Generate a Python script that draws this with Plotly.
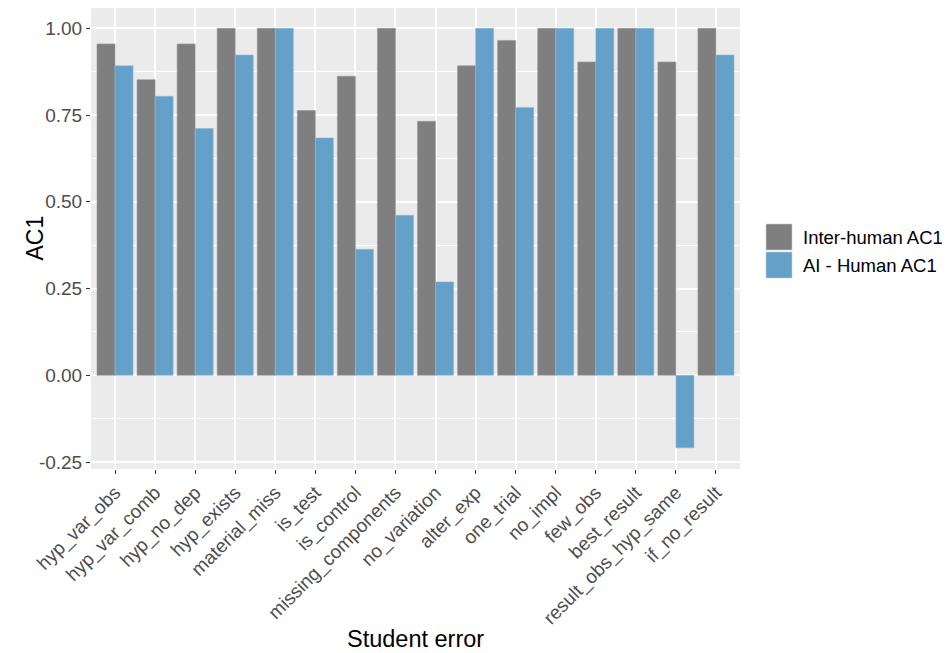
import plotly.graph_objects as go

categories = ["hyp_var_obs", "hyp_var_comb", "hyp_no_dep", "hyp_exists", "material_miss",
              "is_test", "is_control", "missing_components", "no_variation", "alter_exp",
              "one_trial", "no_impl", "few_obs", "best_result", "result_obs_hyp_same", "if_no_result"]
inter_human = [0.955, 0.852, 0.955, 1.0, 1.0, 0.763, 0.862, 1.0, 0.732, 0.892,
               0.965, 1.0, 0.903, 1.0, 0.903, 1.0]
ai_human = [0.892, 0.804, 0.711, 0.923, 1.0, 0.684, 0.363, 0.461, 0.269, 1.0,
            0.772, 1.0, 1.0, 1.0, -0.209, 0.923]
series_names = ["Inter-human AC1", "AI - Human AC1"]
series_colors = ["#7F7F7F", "#65A0C9"]
y_ticks = [-0.25, 0.0, 0.25, 0.5, 0.75, 1.0]
y_tick_labels = ["-0.25", "0.00", "0.25", "0.50", "0.75", "1.00"]

FONT = "Liberation Sans, Arial, sans-serif"
W, H = 950, 653
ML, MR, MT, MB = 83, 218, 0, 192
PW, PH = W - ML - MR, H - MT - MB


def px_to_paper_x(px):
    return (px - ML) / PW


def px_to_paper_y(py):
    return 1 - (py - MT) / PH


fig = go.Figure()
fig.add_trace(go.Bar(x=categories, y=inter_human, name=series_names[0], showlegend=False,
                     marker=dict(color=series_colors[0], line=dict(color="#9a9a9a", width=0.6))))
fig.add_trace(go.Bar(x=categories, y=ai_human, name=series_names[1], showlegend=False,
                     marker=dict(color=series_colors[1], line=dict(color="#8fbbd9", width=0.6))))

# manual ggplot-style legend
shapes = []
annotations = []
row_tops = [216, 244]
for name, col, top in zip(series_names, series_colors, row_tops):
    shapes.append(dict(type="rect", xref="paper", yref="paper",
                       x0=px_to_paper_x(758), x1=px_to_paper_x(784),
                       y0=px_to_paper_y(top + 26), y1=px_to_paper_y(top),
                       fillcolor=col, line=dict(color="#cfcfcf", width=0.6)))
    annotations.append(dict(xref="paper", yref="paper", x=px_to_paper_x(793),
                            y=px_to_paper_y(top + 13), text=name, showarrow=False,
                            xanchor="left", yanchor="middle",
                            font=dict(family=FONT, size=18.5, color="black")))

# axis titles
annotations.append(dict(xref="paper", yref="paper", x=0.5, y=px_to_paper_y(631),
                        text="Student error", showarrow=False, xanchor="center", yanchor="middle",
                        font=dict(family=FONT, size=23.5, color="black")))
annotations.append(dict(xref="paper", yref="paper", x=px_to_paper_x(26), y=0.5,
                        text="AC1", showarrow=False, textangle=-90, xanchor="center", yanchor="middle",
                        font=dict(family=FONT, size=23, color="black")))

fig.update_layout(
    width=W, height=H,
    barmode="group", bargap=0.1, bargroupgap=0,
    plot_bgcolor="#EBEBEB", paper_bgcolor="white",
    margin=dict(l=ML, r=MR, t=MT, b=MB, autoexpand=False),
    font=dict(family=FONT, color="#4D4D4D", size=19),
    shapes=shapes, annotations=annotations,
    showlegend=False,
)
fig.update_xaxes(
    range=[-0.6, 15.6], tickangle=-45, showgrid=True, gridcolor="white", gridwidth=1.5,
    ticks="outside", ticklen=4, tickcolor="#333333", tickwidth=1,
    tickfont=dict(family=FONT, size=19, color="#4D4D4D"),
    zeroline=False, showline=False,
)
fig.update_yaxes(
    range=[-0.270, 1.0585], tickvals=y_ticks, ticktext=y_tick_labels,
    showgrid=True, gridcolor="white", gridwidth=1.5,
    minor=dict(tickvals=[-0.125, 0.125, 0.375, 0.625, 0.875], showgrid=True,
               gridcolor="white", gridwidth=0.7, ticks=""),
    ticks="outside", ticklen=4, tickcolor="#333333", tickwidth=1,
    tickfont=dict(family=FONT, size=19, color="#4D4D4D"),
    zeroline=False, showline=False,
)

fig.write_html("out.html")
